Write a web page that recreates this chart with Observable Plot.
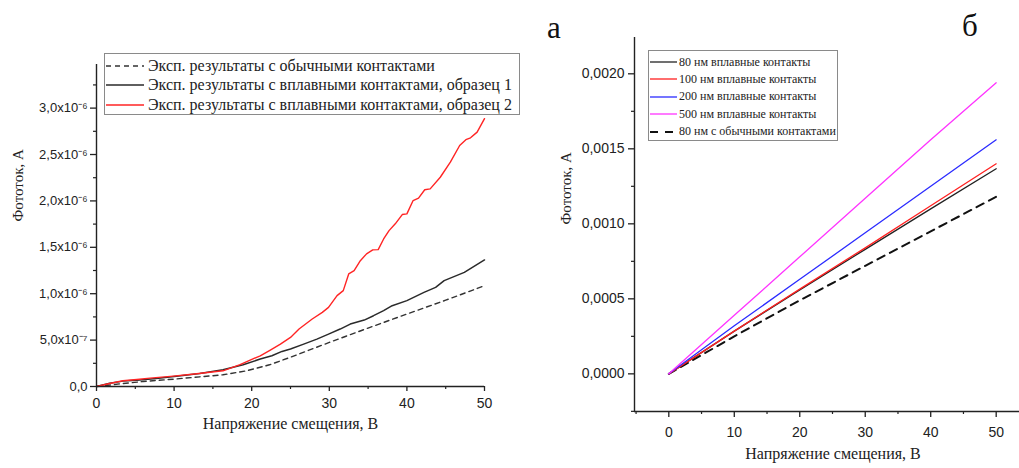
<!DOCTYPE html>
<html>
<head>
<meta charset="utf-8">
<script src="https://cdn.jsdelivr.net/npm/d3@7"></script>
<script src="https://cdn.jsdelivr.net/npm/@observablehq/plot@0.6"></script>
<style>
  body { margin: 0; background: #fff; }
  #wrap { position: relative; width: 1019px; height: 468px; overflow: hidden; background: #fff; }
  #left, #right { position: absolute; top: 0; }
  #left { left: 0; }
  #right { left: 520px; }
  .legend { position: absolute; background: #fff; border: 1px solid #8a8a8a; font-family: "Liberation Serif", serif; color: #222; box-sizing: border-box; }
  .row { position: absolute; left: 0; display: flex; align-items: center; white-space: nowrap; }
  .row svg { display: block; }
  .tag { position: absolute; font-family: "Liberation Serif", serif; font-size: 31px; color: #111; line-height: 1; }
</style>
</head>
<body>
<div id="wrap">
  <div id="left"></div>
  <div id="right"></div>
  <div class="tag" style="left:547px; top:12px;">а</div>
  <div class="tag" style="left:962px; top:10px;">б</div>
</div>
<script>
// ---------- Left chart (а) data, current in units of 1e-7 A ----------
const leftXLabel = "Напряжение смещения, В";
const leftYLabel = "Фототок, А";
const leftSeriesNames = [
  "Эксп. результаты с обычными контактами",
  "Эксп. результаты с вплавными контактами, образец 1",
  "Эксп. результаты с вплавными контактами, образец 2"
];
const dashedX = [0, 3.4, 6.0, 9.9, 13.3, 16.3, 19.3, 22.3, 25.0, 30.0, 35.0, 40.0, 45.0, 50.0];
const dashedY = [0, 0.32, 0.54, 0.79, 1.04, 1.26, 1.69, 2.34, 3.15, 4.75, 6.30, 7.81, 9.30, 10.86];

const black1X = [0, 1.7, 3.4, 5.2, 7.7, 10.3, 13.3, 16.3, 18.9, 21.1, 22.6, 23.9, 25.0, 26.7, 28.4, 29.9, 31.4, 32.7, 34.5, 35.7, 37.0, 38.1, 40.0, 42.2, 43.7, 44.8, 47.4, 50.0];
const black1Y = [0, 0.36, 0.58, 0.68, 0.85, 1.10, 1.40, 1.80, 2.35, 2.96, 3.31, 3.78, 4.04, 4.57, 5.11, 5.65, 6.19, 6.73, 7.16, 7.63, 8.17, 8.71, 9.25, 10.14, 10.68, 11.41, 12.30, 13.64];

const red2X = [0, 1.7, 3.4, 5.2, 6.9, 9.9, 12.9, 16.3, 18.5, 19.8, 21.1, 22.4, 23.7, 25.0, 26.1, 27.8, 29.1, 29.9, 31.0, 31.8, 32.5, 33.2, 34.0, 34.8, 35.6, 36.3, 37.0, 37.7, 38.5, 39.4, 40.0, 40.8, 41.5, 42.3, 43.0, 44.3, 45.6, 46.8, 47.6, 48.2, 49.05, 50.0];
const red2Y = [0, 0.32, 0.62, 0.76, 0.90, 1.12, 1.37, 1.69, 2.35, 2.85, 3.31, 3.93, 4.57, 5.29, 6.19, 7.27, 7.99, 8.53, 9.79, 10.33, 12.13, 12.49, 13.56, 14.29, 14.72, 14.75, 15.90, 16.80, 17.53, 18.53, 18.60, 20.04, 20.30, 21.20, 21.30, 22.55, 24.17, 25.97, 26.60, 26.80, 27.41, 28.86];

const leftXTicks = [0, 10, 20, 30, 40, 50];
const leftXMinor = [5, 15, 25, 35, 45];
const leftYTicks = [0, 5e-7, 1e-6, 1.5e-6, 2e-6, 2.5e-6, 3e-6];
const leftYTickLabels = ["0,0", "5,0x10⁻⁷", "1,0x10⁻⁶", "1,5x10⁻⁶", "2,0x10⁻⁶", "2,5x10⁻⁶", "3,0x10⁻⁶"];
const leftYMinor = [2.5e-7, 7.5e-7, 1.25e-6, 1.75e-6, 2.25e-6, 2.75e-6, 3.25e-6];

// ---------- Right chart (б) data, current in A ----------
const rightX = [0, 10, 20, 30, 40, 50];
const rightSeriesNames = [
  "80 нм вплавные контакты",
  "100 нм вплавные контакты",
  "200 нм вплавные контакты",
  "500 нм вплавные контакты",
  "80 нм с обычными контактами"
];
const r80 = [0, 0.000285, 0.000560, 0.000830, 0.001100, 0.001367];
const r100 = [0, 0.000285, 0.000565, 0.000840, 0.001120, 0.001400];
const r200 = [0, 0.000320, 0.000630, 0.000940, 0.001250, 0.001560];
const r500 = [0, 0.000390, 0.000780, 0.001170, 0.001560, 0.001940];
const r80ord = [0, 0.000250, 0.000490, 0.000720, 0.000950, 0.001180];

const rightXTicks = [0, 10, 20, 30, 40, 50];
const rightXMinor = [-5, 5, 15, 25, 35, 45];
const rightYTicks = [0, 0.0005, 0.001, 0.0015, 0.002];
const rightYTickLabels = ["0,0000", "0,0005", "0,0010", "0,0015", "0,0020"];
const rightYMinor = [-0.00025, 0.00025, 0.00075, 0.00125, 0.00175];

const sans = "Liberation Sans, Arial, sans-serif";
const serif = "Liberation Serif, Times New Roman, serif";
const ink = "#222";

const toRows = (xs, ys, k = 1) => xs.map((x, i) => ({x, y: ys[i] * k}));

// ---------- Left plot ----------
const leftPlot = Plot.plot({
  width: 520, height: 468,
  marginLeft: 96, marginRight: 36, marginTop: 64, marginBottom: 82,
  style: {background: "transparent", color: ink, fontFamily: sans},
  x: {domain: [0, 50], label: null},
  y: {domain: [0, 3.47e-6], label: null},
  marks: [
    Plot.line(toRows(dashedX, dashedY, 1e-7), {x: "x", y: "y", stroke: "#333", strokeWidth: 1.4, strokeDasharray: "5,4"}),
    Plot.line(toRows(black1X, black1Y, 1e-7), {x: "x", y: "y", stroke: "#2a2a2a", strokeWidth: 1.5}),
    Plot.line(toRows(red2X, red2Y, 1e-7), {x: "x", y: "y", stroke: "#ff2424", strokeWidth: 1.4}),
    Plot.ruleY([0], {stroke: ink, strokeWidth: 1.4}),
    Plot.ruleX([0], {stroke: ink, strokeWidth: 1.4}),
    Plot.axisX(leftXTicks, {anchor: "bottom", tickSize: 5, tickPadding: 7, fontSize: 14, fontFamily: sans, label: null, strokeWidth: 1.3}),
    Plot.axisX(leftXMinor, {anchor: "bottom", tickSize: 3, tickFormat: () => "", label: null, strokeWidth: 1.2}),
    Plot.axisY(leftYTicks, {anchor: "left", tickSize: 6, tickPadding: 3, fontSize: 13, fontFamily: sans, label: null, strokeWidth: 1.3,
      tickFormat: d => leftYTickLabels[leftYTicks.indexOf(d)]}),
    Plot.axisY(leftYMinor, {anchor: "left", tickSize: 3, tickFormat: () => "", label: null, strokeWidth: 1.2}),
    Plot.text([leftXLabel], {text: d => d, frameAnchor: "bottom", dy: 42, fontSize: 16, fontFamily: serif, fill: ink}),
    Plot.text([leftYLabel], {text: d => d, frameAnchor: "left", dx: -78, dy: -4, rotate: -90, fontSize: 15, fontFamily: serif, fill: ink})
  ]
});
document.getElementById("left").appendChild(leftPlot);

// ---------- Right plot ----------
const rightPlot = Plot.plot({
  width: 499, height: 468,
  marginLeft: 114, marginRight: 0, marginTop: 37, marginBottom: 57,
  style: {background: "transparent", color: ink, fontFamily: sans},
  x: {domain: [-5.24, 53.56], label: null},
  y: {domain: [-0.000251, 0.002242], label: null},
  marks: [
    Plot.line(toRows(rightX, r80ord), {x: "x", y: "y", stroke: "#111", strokeWidth: 2, strokeDasharray: "8,6"}),
    Plot.line(toRows(rightX, r80), {x: "x", y: "y", stroke: "#222", strokeWidth: 1.3}),
    Plot.line(toRows(rightX, r100), {x: "x", y: "y", stroke: "#ff2020", strokeWidth: 1.3}),
    Plot.line(toRows(rightX, r200), {x: "x", y: "y", stroke: "#2b2bff", strokeWidth: 1.3}),
    Plot.line(toRows(rightX, r500), {x: "x", y: "y", stroke: "#ff33ff", strokeWidth: 1.3}),
    Plot.ruleY([-0.000251], {stroke: ink, strokeWidth: 1.4}),
    Plot.ruleX([-5.24], {stroke: ink, strokeWidth: 1.4}),
    Plot.axisX(rightXTicks, {anchor: "bottom", tickSize: 6, tickPadding: 10, fontSize: 14, fontFamily: sans, label: null, strokeWidth: 1.3}),
    Plot.axisX(rightXMinor, {anchor: "bottom", tickSize: 3, tickFormat: () => "", label: null, strokeWidth: 1.2}),
    Plot.axisY(rightYTicks, {anchor: "left", tickSize: 6, tickPadding: 4, fontSize: 14, fontFamily: sans, label: null, strokeWidth: 1.3,
      tickFormat: d => rightYTickLabels[rightYTicks.indexOf(d)]}),
    Plot.axisY(rightYMinor, {anchor: "left", tickSize: 3, tickFormat: () => "", label: null, strokeWidth: 1.2}),
    Plot.text([leftXLabel], {text: d => d, frameAnchor: "bottom", dx: 6, dy: 47, fontSize: 16, fontFamily: serif, fill: ink}),
    Plot.text([leftYLabel], {text: d => d, frameAnchor: "left", dx: -68, rotate: -90, fontSize: 15, fontFamily: serif, fill: ink})
  ]
});
document.getElementById("right").appendChild(rightPlot);

// ---------- Legends ----------
function swatch(w, color, width, dash) {
  const ns = "http://www.w3.org/2000/svg";
  const s = document.createElementNS(ns, "svg");
  s.setAttribute("width", w); s.setAttribute("height", 6);
  const l = document.createElementNS(ns, "line");
  l.setAttribute("x1", 0); l.setAttribute("x2", w); l.setAttribute("y1", 3); l.setAttribute("y2", 3);
  l.setAttribute("stroke", color); l.setAttribute("stroke-width", width);
  if (dash) l.setAttribute("stroke-dasharray", dash);
  s.appendChild(l);
  return s;
}
function legend(box, items, rowTop, rowStep, swW, fontSize, gap) {
  const d = document.createElement("div");
  d.className = "legend";
  Object.assign(d.style, {left: box[0] + "px", top: box[1] + "px", width: box[2] + "px", height: box[3] + "px", fontSize: fontSize + "px"});
  items.forEach((it, i) => {
    const r = document.createElement("div");
    r.className = "row";
    r.style.top = (rowTop + i * rowStep - fontSize * 0.6) + "px";
    r.style.height = (fontSize * 1.2) + "px";
    r.style.left = "1px";
    r.appendChild(swatch(swW, it.color, it.width, it.dash));
    const t = document.createElement("span");
    t.textContent = it.name;
    t.style.marginLeft = gap + "px";
    r.appendChild(t);
    d.appendChild(r);
  });
  document.getElementById("wrap").appendChild(d);
}
legend([104, 53, 416, 62], [
  {name: leftSeriesNames[0], color: "#333", width: 1.4, dash: "5,4"},
  {name: leftSeriesNames[1], color: "#2a2a2a", width: 1.5},
  {name: leftSeriesNames[2], color: "#ff2424", width: 1.4}
], 12, 19.5, 38, 16, 4);
legend([648, 50, 190, 91], [
  {name: rightSeriesNames[0], color: "#222", width: 1.3},
  {name: rightSeriesNames[1], color: "#ff2020", width: 1.3},
  {name: rightSeriesNames[2], color: "#2b2bff", width: 1.3},
  {name: rightSeriesNames[3], color: "#ff33ff", width: 1.3},
  {name: rightSeriesNames[4], color: "#111", width: 2, dash: "8,7"}
], 11, 17.4, 27, 12, 2);
</script>
</body>
</html>
